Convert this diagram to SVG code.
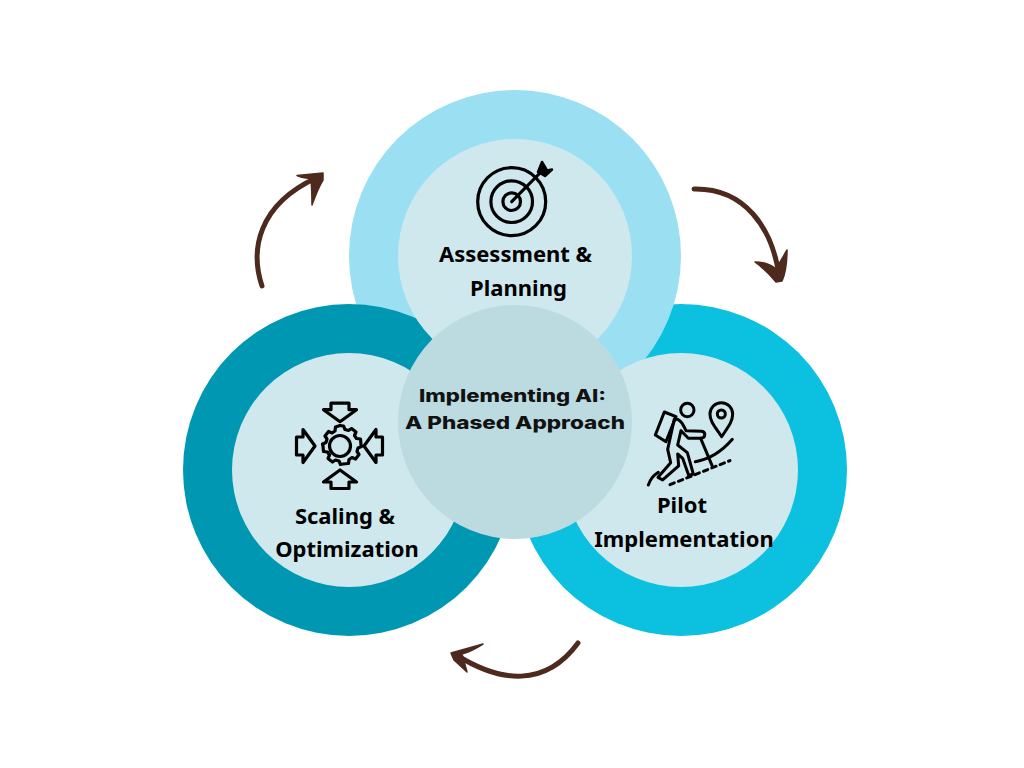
<svg xmlns="http://www.w3.org/2000/svg" width="1024" height="768" viewBox="0 0 1024 768">
<style>
.inner{fill:#cfe8ee}
.lbl{font-family:"Noto Sans","Liberation Sans",sans-serif;font-weight:700;font-size:22px;fill:#000;text-anchor:middle}
.ctr{font-family:"Inter","Liberation Sans",sans-serif;font-weight:800;font-size:17.500px;fill:#111;text-anchor:middle}
.ic{fill:none;stroke:#000;stroke-width:3.200;stroke-linejoin:round;stroke-linecap:round}
.arc{fill:none;stroke:#4e2a1e;stroke-width:5;stroke-linecap:round}
.head{fill:#4e2a1e;stroke:#4e2a1e;stroke-width:1.500;stroke-linejoin:round}
</style>
<defs>
<path id="ga" d="M-9 -18.500H9V-12H16.500L0 0L-16.500 -12H-9Z" class="ic"/>
</defs>
<rect width="1024" height="768" fill="#fff"/>
<circle cx="681" cy="470" r="166" fill="#0cc0df"/>
<circle cx="515" cy="256" r="166" fill="#9ae0f2"/>
<circle cx="349" cy="470" r="166" fill="#0097b2"/>
<g id="node-assessment">
<circle class="inner" cx="515" cy="256" r="117"/>
<g class="ic">
<circle cx="511.700" cy="201.700" r="34"/>
<circle cx="511.700" cy="201.700" r="20.800"/>
<circle cx="511.700" cy="201.700" r="8.800"/>
<path d="M511.700 201.700L540 173"/>
<path d="M538 172L542 162L545 167L547 170.500L552 169.500L545 176Z" fill="#000" stroke-width="2.500"/>
</g>
<text class="lbl" x="515.500" y="262">Assessment &amp;</text>
<text class="lbl" x="518.500" y="296">Planning</text>
</g>
<g id="node-scaling">
<circle class="inner" cx="349" cy="470" r="117"/>
<g class="ic">
<circle cx="340" cy="446" r="10.500"/>
<path d="M340 425.500l3.500 .5l1.500 3.500l3.500 1l3 -2l4.500 3.500l-1.500 3.500l2 3l4 .5l.5 5.500l.5 2l-3.500 1.500l-1 3.500l2 3l-3.500 4.500l-3.500 -1.500l-3 2l-.5 4l-5.500 .5l-2.500 .5l-1.500 -3.500l-3.500 -1l-3 2l-4.500 -3.500l1.500 -3.500l-2 -3l-4 -.5l-.5 -5.500l-.5 -2l3.500 -1.500l1 -3.500l-2 -3l3.500 -4.500l3.500 1.500l3 -2l.5 -4Z"/>
</g>
<use href="#ga" transform="translate(340 421.700)"/>
<use href="#ga" transform="translate(340 470) rotate(180)"/>
<use href="#ga" transform="translate(315 446) rotate(-90)"/>
<use href="#ga" transform="translate(364 446) rotate(90)"/>
<text class="lbl" x="345" y="524">Scaling &amp;</text>
<text class="lbl" x="347" y="557">Optimization</text>
</g>
<g id="node-pilot">
<circle class="inner" cx="681" cy="470" r="117"/>
<g class="ic" transform="translate(630 390) scale(.3333)" style="stroke-width:9">
<circle cx="172" cy="60" r="20"/>
<path d="M103 66L138 80L108 155L76 135Z"/>
<path d="M275 140C255 110 240 95 240 72A34 34 0 0 1 308 72C308 95 295 110 275 140Z"/>
<circle cx="274" cy="72" r="12"/>
<path d="M133 87C150 86 158 100 168 122L215 124C228 126 228 144 212 145L175 145L153 122L143 165L172 188L190 252L176 256L158 205L143 192L146 228L98 270L84 262L122 218L113 178L133 87Z"/>
<path d="M212 145L246 226"/>
<path d="M55 285C62 265 72 255 85 247"/>
<path d="M196 215C240 208 275 185 307 148"/>
<path d="M120 284L300 212" stroke-dasharray="14 13"/>
</g>
<text class="lbl" x="682" y="513">Pilot</text>
<text class="lbl" x="684" y="547">Implementation</text>
</g>
<g id="node-center">
<circle cx="515" cy="422" r="117" fill="#bbdbe0"/>
<text class="ctr" x="512.500" y="402" textLength="187" lengthAdjust="spacingAndGlyphs">Implementing AI:</text>
<text class="ctr" x="515" y="429" textLength="220" lengthAdjust="spacingAndGlyphs">A Phased Approach</text>
</g>
<g id="connectors">
<path class="arc" d="M262 286C250 250 258 205 316 178"/>
<path class="head" d="M323 173L297 175.500Q304 179 311 178Q312 192 312 205Q318 188 323 180Z"/>
<path class="arc" d="M694 189C745 188 772 228 779 275"/>
<path class="head" d="M755 262Q768 262 776 269L780 262L787 250Q787 270 782 281L776 282Q766 270 755 262Z"/>
<path class="arc" d="M578 643C545 688 500 682 458 656"/>
<path class="head" d="M451 653L483 644Q472 651 462 654L467 672L454 660Z"/>
</g>
</svg>
